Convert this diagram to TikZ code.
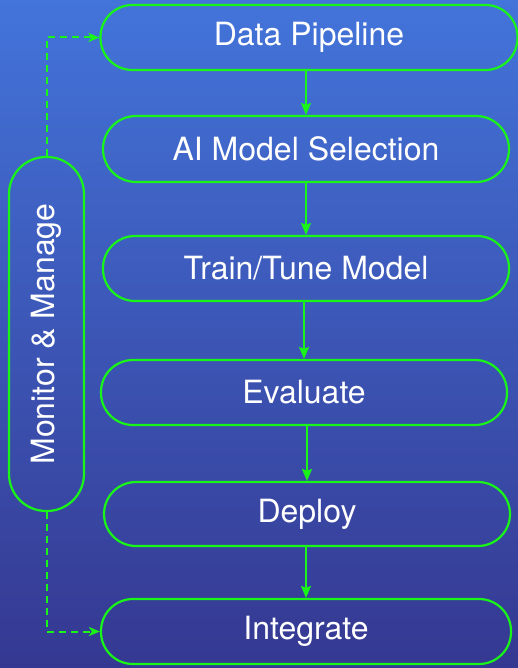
\documentclass[tikz,border=0pt]{standalone}
\usepackage{fontspec}
\usepackage{graphicx}
\setmainfont{TeX Gyre Heros}
\usetikzlibrary{arrows.meta}
\definecolor{bgtop}{RGB}{67,116,218}
\definecolor{bgbot}{RGB}{53,56,145}
\definecolor{lime}{RGB}{25,245,25}
\tikzset{
  stepbox/.style={draw=lime, line width=2.2pt, rectangle, rounded corners=32pt,
    minimum height=65pt, inner sep=0pt, text=white,
    font=\fontsize{32}{38}\selectfont},
  flowarrow/.style={draw=lime, line width=2pt, -{Stealth[length=12pt,width=10pt,inset=2pt]}},
  loopline/.style={draw=lime, line width=2pt, dash pattern=on 7pt off 5pt,
    -{Stealth[length=11pt,width=9pt,inset=3pt]}}
}
\begin{document}
\begin{tikzpicture}[x=1pt,y=-1pt]
\shade[top color=bgtop, bottom color=bgbot] (0,0) rectangle (518,668);
\useasboundingbox (0,0) rectangle (518,668);
\node[stepbox, minimum width=417pt] (data) at (309,37.5) {Data Pipeline};
\node[stepbox, minimum width=406pt, minimum height=66pt, rounded corners=33pt] (sel) at (306,149) {AI Model Selection};
\node[stepbox, minimum width=406pt] (train) at (306,268.5) {Train/Tune Model};
\node[stepbox, minimum width=406pt] (eval) at (304,392.5) {Evaluate};
\node[stepbox, minimum width=406pt, minimum height=64pt] (deploy) at (307,514) {Deploy};
\node[stepbox, minimum width=410pt] (integ) at (306,631.5) {Integrate};
\node[stepbox, minimum width=75pt, minimum height=354pt, rounded corners=37pt] (mon) at (46.5,334) {\rotatebox{90}{Monitor \& Manage}};
\draw[flowarrow] (sel.north |- data.south) -- (sel.north);
\draw[flowarrow] (train.north |- sel.south) -- (train.north);
\draw[flowarrow] (eval.north |- train.south) -- (eval.north);
\draw[flowarrow] (deploy.north |- eval.south) -- (deploy.north);
\draw[flowarrow] (integ.north |- deploy.south) -- (integ.north);
\draw[loopline] (mon.north) |- (data.west);
\draw[loopline] (mon.south) |- (integ.west);
\end{tikzpicture}
\end{document}
